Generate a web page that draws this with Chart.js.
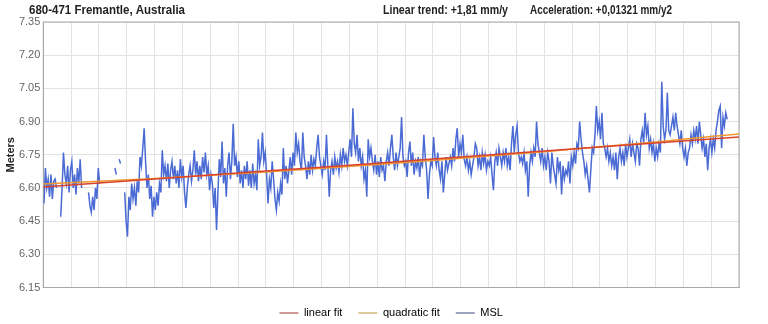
<!DOCTYPE html>
<html>
<head>
<meta charset="utf-8">
<script src="https://cdn.jsdelivr.net/npm/chart.js@4.4.0/dist/chart.umd.min.js"></script>
<style>
  html, body { margin: 0; padding: 0; background: #fff; }
  #wrap { width: 768px; height: 324px; }
</style>
</head>
<body>
<div id="wrap"><canvas id="myChart" width="768" height="324"></canvas></div>
<script>
// header texts
var stationName = '680-471 Fremantle, Australia';
var trendText = 'Linear trend: +1,81 mm/y';
var accelText = 'Acceleration: +0,01321 mm/y2';

// monthly MSL thinned to quarterly values, meters; null = no record
var firstYear = 1900;
var perYear = 4;
var msl = [
  6.53, 6.69, 6.60, 6.64,  // 1900
  6.56, 6.66, 6.55, 6.63,
  6.64, 6.60, null, null,
  6.47, 6.60, 6.76, 6.66,
  6.62, 6.70, 6.58, 6.68,
  6.72, 6.60, 6.66, 6.57,  // 1905
  6.69, 6.62, 6.73, 6.60,
  null, null, null, null,
  6.58, 6.52, 6.49, 6.56,
  6.50, 6.60, 6.55, 6.69,
  6.62, null, null, null,  // 1910
  null, null, null, null,
  null, null, null, 6.69,
  6.66, null, 6.73, 6.71,
  null, null, 6.58, 6.45,
  6.38, 6.56, 6.50, 6.62,  // 1915
  6.55, 6.60, 6.52, 6.63,
  6.58, 6.74, 6.70, 6.78,
  6.87, 6.72, 6.60, 6.66,
  6.55, 6.61, 6.47, 6.56,
  6.50, 6.58, 6.52, 6.62,  // 1920
  6.58, 6.77, 6.66, 6.70,
  6.63, 6.71, 6.60, 6.68,
  6.72, 6.64, 6.70, 6.62,
  6.68, 6.60, 6.73, 6.65,
  6.70, 6.58, 6.51, 6.60,  // 1925
  6.66, 6.70, 6.63, 6.68,
  6.77, 6.66, 6.72, 6.63,
  6.70, 6.64, 6.74, 6.67,
  6.76, 6.66, 6.70, 6.59,
  6.66, 6.62, 6.51, 6.60,  // 1930
  6.41, 6.58, 6.73, 6.65,
  6.81, 6.62, 6.69, 6.56,
  6.70, 6.76, 6.64, 6.72,
  6.89, 6.70, 6.74, 6.65,
  6.72, 6.62, 6.68, 6.60,  // 1935
  6.70, 6.64, 6.72, 6.61,
  6.68, 6.60, 6.71, 6.62,
  6.66, 6.59, 6.82, 6.70,
  6.74, 6.85, 6.72, 6.76,
  6.66, 6.53, 6.64, 6.60,  // 1940
  6.72, 6.64, 6.55, 6.50,
  6.58, 6.54, 6.62, 6.57,
  6.78, 6.64, 6.70, 6.62,
  6.68, 6.74, 6.66, 6.76,
  6.70, 6.85, 6.76, 6.80,  // 1945
  6.72, 6.68, 6.85, 6.74,
  6.70, 6.64, 6.72, 6.66,
  6.75, 6.68, 6.73, 6.70,
  6.78, 6.84, 6.74, 6.70,
  6.66, 6.72, 6.68, 6.84,  // 1950
  6.70, 6.56, 6.68, 6.72,
  6.66, 6.74, 6.69, 6.72,
  6.67, 6.75, 6.70, 6.78,
  6.72, 6.75, 6.70, 6.76,
  6.82, 6.74, 6.96, 6.80,  // 1955
  6.76, 6.84, 6.72, 6.78,
  6.70, 6.74, 6.64, 6.68,
  6.56, 6.82, 6.74, 6.78,
  6.72, 6.68, 6.75, 6.66,
  6.72, 6.65, 6.74, 6.68,  // 1960
  6.70, 6.63, 6.72, 6.76,
  6.70, 6.78, 6.84, 6.74,
  6.68, 6.76, 6.70, 6.74,
  6.78, 6.92, 6.74, 6.70,
  6.72, 6.65, 6.76, 6.81,  // 1965
  6.70, 6.76, 6.66, 6.72,
  6.69, 6.74, 6.65, 6.72,
  6.70, 6.84, 6.74, 6.68,
  6.55, 6.66, 6.72, 6.70,
  6.83, 6.74, 6.70, 6.76,  // 1970
  6.68, 6.64, 6.72, 6.58,
  6.66, 6.74, 6.68, 6.71,
  6.74, 6.70, 6.78, 6.72,
  6.82, 6.87, 6.74, 6.80,
  6.76, 6.84, 6.73, 6.70,  // 1975
  6.74, 6.68, 6.72, 6.66,
  6.70, 6.74, 6.80, 6.78,
  6.70, 6.74, 6.68, 6.76,
  6.71, 6.75, 6.68, 6.72,
  6.70, 6.74, 6.66, 6.59,  // 1980
  6.72, 6.76, 6.70, 6.78,
  6.74, 6.70, 6.76, 6.72,
  6.78, 6.70, 6.74, 6.68,
  6.80, 6.88, 6.76, 6.84,
  6.88, 6.76, 6.72, 6.74,  // 1985
  6.71, 6.76, 6.68, 6.72,
  6.56, 6.70, 6.76, 6.72,
  6.78, 6.74, 6.90, 6.80,
  6.76, 6.72, 6.78, 6.70,
  6.74, 6.68, 6.76, 6.72,  // 1990
  6.62, 6.76, 6.70, 6.66,
  6.62, 6.74, 6.68, 6.72,
  6.57, 6.70, 6.64, 6.68,
  6.66, 6.72, 6.62, 6.74,
  6.70, 6.76, 6.71, 6.80,  // 1995
  6.78, 6.90, 6.82, 6.76,
  6.72, 6.66, 6.70, 6.64,
  6.58, 6.68, 6.78, 6.76,
  6.84, 6.97, 6.86, 6.90,
  6.82, 6.94, 6.80, 6.78,  // 2000
  6.74, 6.78, 6.72, 6.76,
  6.70, 6.74, 6.68, 6.76,
  6.64, 6.74, 6.78, 6.72,
  6.76, 6.70, 6.80, 6.74,
  6.78, 6.82, 6.74, 6.80,  // 2005
  6.76, 6.72, 6.80, 6.78,
  6.70, 6.82, 6.86, 6.80,
  6.94, 6.84, 6.88, 6.78,
  6.82, 6.76, 6.80, 6.72,
  6.78, 6.74, 6.80, 6.76,  // 2010
  7.08, 6.88, 6.82, 6.86,
  7.03, 6.86, 6.84, 6.88,
  6.92, 6.86, 6.94, 6.88,
  6.84, 6.80, 6.86, 6.78,
  6.74, 6.78, 6.70, 6.76,  // 2015
  6.78, 6.84, 6.80, 6.86,
  6.82, 6.88, 6.80, 6.90,
  6.84, 6.78, 6.82, 6.74,
  6.80, 6.68, 6.78, 6.82,
  6.76, 6.82, 6.78, 6.86,  // 2020
  6.90, 6.95, 6.97, 6.78,
  6.92, 6.88, 6.94, 6.91
];

// fitted curves, sampled by decade
var fitYears     = [1900, 1910, 1920, 1930, 1940, 1950, 1960, 1970, 1980, 1990, 2000, 2010, 2020, 2025];
var linearFit    = [6.604, 6.622, 6.640, 6.658, 6.676, 6.694, 6.712, 6.731, 6.749, 6.767, 6.785, 6.803, 6.821, 6.830];
var quadraticFit = [6.618, 6.630, 6.643, 6.657, 6.672, 6.689, 6.706, 6.724, 6.744, 6.764, 6.786, 6.808, 6.832, 6.844];

// axis ticks
var yTicks = [6.15, 6.30, 6.45, 6.60, 6.75, 6.90, 7.05, 7.20, 7.35];
var xTicks = [];
for (var yr = 1900; yr <= 2025; yr += 5) xTicks.push(yr);

var mslPoints = msl.map(function (v, i) {
  return { x: firstYear + (i + 0.5) / perYear, y: v };
});
function fitPoints(vals) {
  return vals.map(function (v, i) { return { x: fitYears[i], y: v }; });
}

var tickFont = { family: 'Arial, "Liberation Sans", sans-serif', size: 11 };

// header line above the plot, narrow bold text
var headerPlugin = {
  id: 'header',
  afterDraw: function (chart) {
    var c = chart.ctx;
    c.save();
    c.fillStyle = '#222';
    c.textBaseline = 'middle';
    c.font = 'bold 12.5px Arial, "Liberation Sans", sans-serif';
    c.fillText(stationName, 29, 11, 156);
    c.fillText(trendText, 383, 11, 125);
    c.fillText(accelText, 530, 11, 142);
    c.restore();
  }
};

// grey box round the plot area
var framePlugin = {
  id: 'frame',
  beforeDatasetsDraw: function (chart) {
    var a = chart.chartArea, c = chart.ctx;
    c.save();
    c.strokeStyle = '#a8a8a8';
    c.lineWidth = 1;
    c.strokeRect(a.left, a.top, a.right - a.left, a.bottom - a.top);
    c.restore();
  }
};

// keep legend spacing wide without pushing the plot up
var legendHeight = {
  id: 'legendHeight',
  beforeInit: function (chart) {
    var fit = chart.legend.fit;
    chart.legend.fit = function () {
      fit.bind(chart.legend)();
      this.height = 32.5;
    };
  }
};

var legendColors = ['#cf9a98', '#ddc99a', '#9ca4bf'];

var ctx = document.getElementById('myChart');
var myChart = new Chart(ctx, {
  type: 'line',
  data: {
    datasets: [{
      label: 'linear fit',
      data: fitPoints(linearFit),
      borderColor: '#d8432c',
      borderWidth: 1.5,
      pointRadius: 0
    }, {
      label: 'quadratic fit',
      data: fitPoints(quadraticFit),
      borderColor: '#f0962e',
      borderWidth: 1.5,
      pointRadius: 0
    }, {
      label: 'MSL',
      data: mslPoints,
      borderColor: '#4a6ad4',
      borderWidth: 1.5,
      pointRadius: 0,
      spanGaps: false
    }]
  },
  options: {
    responsive: false,
    animation: false,
    layout: { padding: { left: 0, right: 29, top: 22, bottom: 0 } },
    scales: {
      x: {
        type: 'linear',
        min: 1900,
        max: 2025,
        afterBuildTicks: function (s) { s.ticks = xTicks.map(function (v) { return { value: v }; }); },
        afterFit: function (s) { s.height = 4; },
        ticks: {
          autoSkip: false,
          maxRotation: 0,
          padding: 5,
          color: '#666',
          font: tickFont,
          callback: function (v) { return v % 10 === 0 ? String(v) : ''; }
        },
        grid: { color: '#e2e2e2', drawTicks: false },
        border: { color: '#a8a8a8' }
      },
      y: {
        min: 6.15,
        max: 7.35,
        afterBuildTicks: function (s) { s.ticks = yTicks.map(function (v) { return { value: v }; }); },
        afterFit: function (s) { s.width = 43.3; },
        ticks: {
          padding: 3,
          color: '#666',
          font: tickFont,
          callback: function (v) { return v.toFixed(2); }
        },
        grid: { color: '#e2e2e2', drawTicks: false },
        border: { color: '#a8a8a8' },
        title: {
          display: true,
          text: 'Meters',
          color: '#222',
          font: { family: 'Arial, "Liberation Sans", sans-serif', size: 11, weight: 'bold' },
          padding: { top: 4, bottom: 0 }
        }
      }
    },
    plugins: {
      legend: {
        position: 'bottom',
        fullSize: false,
        labels: {
          boxWidth: 19,
          boxHeight: 2,
          padding: 16,
          color: '#333',
          font: tickFont,
          generateLabels: function (chart) {
            return chart.data.datasets.map(function (ds, i) {
              return {
                text: ds.label,
                fillStyle: legendColors[i],
                strokeStyle: legendColors[i],
                lineWidth: 0,
                datasetIndex: i
              };
            });
          }
        }
      },
      tooltip: { enabled: false }
    }
  },
  plugins: [headerPlugin, framePlugin, legendHeight]
});
</script>
</body>
</html>
